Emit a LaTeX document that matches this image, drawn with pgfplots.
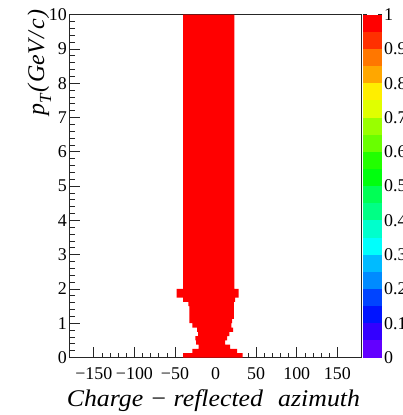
\documentclass[border=0pt]{standalone}
\usepackage{pgfplots}
\pgfplotsset{compat=1.18}
\usepackage{fontspec}
\setmainfont{Liberation Serif}

% ROOT pretty palette, 20 contours
\definecolor{c0}{RGB}{99,0,255}
\definecolor{c1}{RGB}{51,0,255}
\definecolor{c2}{RGB}{0,20,255}
\definecolor{c3}{RGB}{0,68,255}
\definecolor{c4}{RGB}{0,139,255}
\definecolor{c5}{RGB}{0,187,255}
\definecolor{c6}{RGB}{0,255,252}
\definecolor{c7}{RGB}{0,255,204}
\definecolor{c8}{RGB}{0,255,133}
\definecolor{c9}{RGB}{0,255,85}
\definecolor{c10}{RGB}{0,255,14}
\definecolor{c11}{RGB}{34,255,0}
\definecolor{c12}{RGB}{105,255,0}
\definecolor{c13}{RGB}{153,255,0}
\definecolor{c14}{RGB}{224,255,0}
\definecolor{c15}{RGB}{255,238,0}
\definecolor{c16}{RGB}{255,167,0}
\definecolor{c17}{RGB}{255,119,0}
\definecolor{c18}{RGB}{255,48,0}
\definecolor{c19}{RGB}{255,0,0}

\newcommand{\tickfont}{\fontsize{18}{18}\selectfont}
\newcommand{\labfont}{\fontsize{24}{24}\selectfont}

\begin{document}
\begin{tikzpicture}
\path[use as bounding box] (-69.5bp,-57.5bp) rectangle (333.5bp,357.5bp);
\begin{axis}[
    name=main,
    at={(0,0)}, anchor=south west,
    scale only axis,
    width=292.2bp, height=342.8bp,
    xmin=-180, xmax=180, ymin=0, ymax=10,
    xtick={-150,-100,...,150},
    xticklabels={−150,−100,−50,0,50,100,150},
    ytick={0,1,...,10},
    yticklabels={0,1,2,3,4,5,6,7,8,9,10},
    minor x tick num=4,
    minor y tick num=4,
    tick align=inside,
    tick pos=left,
    major tick length=10bp,
    minor tick length=5bp,
    axis line style={black!85, line width=0.7bp},
    tick style={black!85, line width=0.7bp},
    tick label style={font=\tickfont},
    xticklabel style={inner ysep=0pt, yshift=-9.5bp},
    yticklabel style={inner xsep=2.5bp},
    clip=true,
]
\addplot[fill=red, draw=none] coordinates {
    (-40,10) (-40,2) (-48,2) (-48,1.75) (-40,1.75) (-40,1.625)
    (-33.5,1.625) (-33.5,1.5) (-32.4,1.5) (-32.4,1) (-28.5,1) (-28.5,0.875)
    (-22.8,0.875) (-22.8,0.75) (-21.6,0.75) (-21.6,0.625) (-24.8,0.625) (-24.8,0.5)
    (-24,0.5) (-24,0.375) (-20.8,0.375) (-20.8,0.25) (-28.5,0.25) (-28.5,0.125)
    (-40,0.125) (-40,0)
    (33.3,0) (33.3,0.125) (26.5,0.125) (26.5,0.25) (18,0.25) (18,0.375)
    (11.7,0.375) (11.7,0.5) (14.2,0.5) (14.2,0.625) (17,0.625) (17,0.75)
    (21.6,0.75) (21.6,0.875) (19.5,0.875) (19.5,1) (20.5,1) (20.5,1.125)
    (22.4,1.125) (22.4,1.625) (24,1.625) (24,1.75) (28.4,1.75) (28.4,2)
    (23.2,2) (23.2,10)
} -- cycle;
\end{axis}

% axis titles
\node[anchor=base east, inner sep=0pt, font=\labfont, xscale=1.08]
  at ([xshift=-1.5bp, yshift=-48.5bp]main.south east)
  {\itshape Charge\hspace{6bp}−\hspace{6bp}reflected\hspace{14bp}azimuth};
\node[anchor=base east, rotate=90, inner sep=0pt, font=\labfont]
  at ([xshift=-25.5bp, yshift=5bp]main.north west)
  {\itshape p\raisebox{-0.3em}{\fontsize{17}{17}\selectfont T}\hspace{2bp}(\hspace{2bp}GeV\hspace{2bp}/\hspace{2bp}c\hspace{1bp})};

% palette
\begin{axis}[
    at={(main.south east)}, anchor=south west, xshift=1.3bp,
    scale only axis,
    width=19bp, height=342.8bp,
    xmin=0, xmax=1, ymin=0, ymax=1,
    axis line style={draw=none},
    xtick=\empty,
    ytick={0,0.1,...,1},
    yticklabels={0,0.1,0.2,0.3,0.4,0.5,0.6,0.7,0.8,0.9,1},
    yticklabel pos=right,
    tick align=inside,
    major tick length=4bp,
    tick style={black!85, line width=0.7bp},
    tick label style={font=\tickfont},
    yticklabel style={inner xsep=2bp},
]
\addplot[fill=c0, draw=none] coordinates {(0,0) (1,0) (1,1) (0,1)} -- cycle;
\addplot[fill=c1, draw=none] coordinates {(0,0.05) (1,0.05) (1,1) (0,1)} -- cycle;
\addplot[fill=c2, draw=none] coordinates {(0,0.1) (1,0.1) (1,1) (0,1)} -- cycle;
\addplot[fill=c3, draw=none] coordinates {(0,0.15) (1,0.15) (1,1) (0,1)} -- cycle;
\addplot[fill=c4, draw=none] coordinates {(0,0.2) (1,0.2) (1,1) (0,1)} -- cycle;
\addplot[fill=c5, draw=none] coordinates {(0,0.25) (1,0.25) (1,1) (0,1)} -- cycle;
\addplot[fill=c6, draw=none] coordinates {(0,0.3) (1,0.3) (1,1) (0,1)} -- cycle;
\addplot[fill=c7, draw=none] coordinates {(0,0.35) (1,0.35) (1,1) (0,1)} -- cycle;
\addplot[fill=c8, draw=none] coordinates {(0,0.4) (1,0.4) (1,1) (0,1)} -- cycle;
\addplot[fill=c9, draw=none] coordinates {(0,0.45) (1,0.45) (1,1) (0,1)} -- cycle;
\addplot[fill=c10, draw=none] coordinates {(0,0.5) (1,0.5) (1,1) (0,1)} -- cycle;
\addplot[fill=c11, draw=none] coordinates {(0,0.55) (1,0.55) (1,1) (0,1)} -- cycle;
\addplot[fill=c12, draw=none] coordinates {(0,0.6) (1,0.6) (1,1) (0,1)} -- cycle;
\addplot[fill=c13, draw=none] coordinates {(0,0.65) (1,0.65) (1,1) (0,1)} -- cycle;
\addplot[fill=c14, draw=none] coordinates {(0,0.7) (1,0.7) (1,1) (0,1)} -- cycle;
\addplot[fill=c15, draw=none] coordinates {(0,0.75) (1,0.75) (1,1) (0,1)} -- cycle;
\addplot[fill=c16, draw=none] coordinates {(0,0.8) (1,0.8) (1,1) (0,1)} -- cycle;
\addplot[fill=c17, draw=none] coordinates {(0,0.85) (1,0.85) (1,1) (0,1)} -- cycle;
\addplot[fill=c18, draw=none] coordinates {(0,0.9) (1,0.9) (1,1) (0,1)} -- cycle;
\addplot[fill=c19, draw=none] coordinates {(0,0.95) (1,0.95) (1,1) (0,1)} -- cycle;
\end{axis}
\end{tikzpicture}
\end{document}
